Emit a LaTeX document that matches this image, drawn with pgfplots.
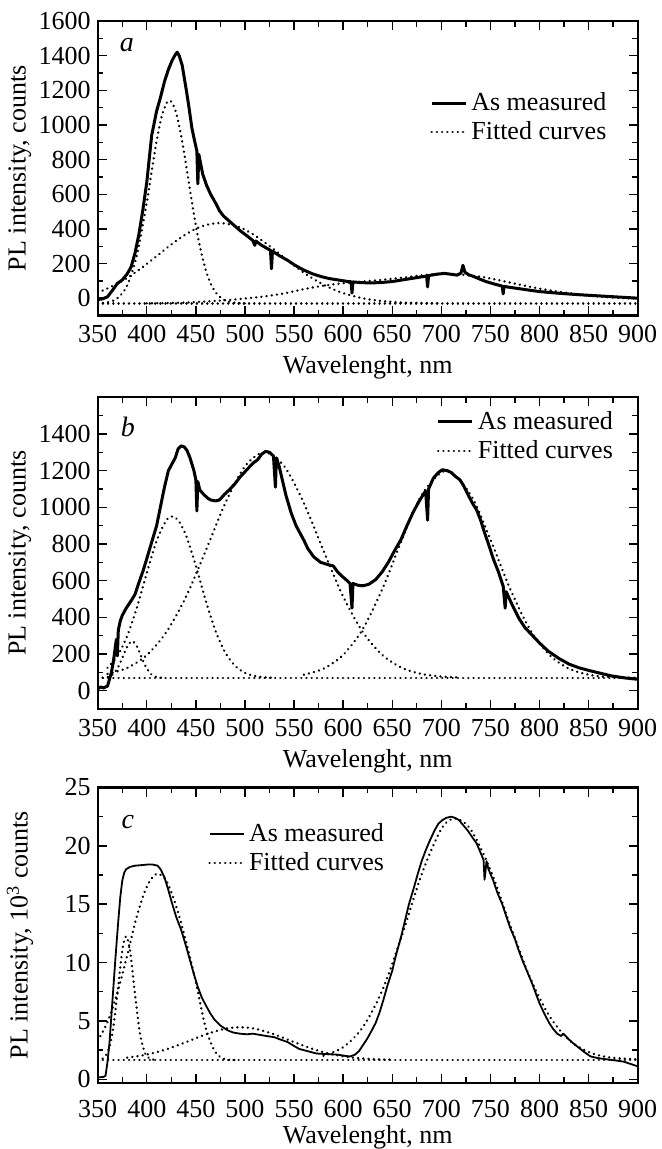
\documentclass[border=0pt]{standalone}
\usepackage{fontspec}
\setmainfont{Liberation Serif}
\usepackage{pgfplots}
\pgfplotsset{compat=1.18}

\pgfplotsset{
  plpanel/.style={
    scale only axis, width=270pt, xmin=350, xmax=900,
    xtick={350,400,...,900}, minor x tick num=1,
    tick align=inside, xtick pos=both, ytick pos=both,
    major tick length=4.5pt, minor tick length=2.8pt,
    every tick/.style={black,line width=0.7pt},
    axis line style={line width=1.1pt},
    tick label style={font=\fontsize{13}{15}\selectfont},
    xticklabel style={yshift=-1.5pt},
    label style={font=\fontsize{13}{15}\selectfont},
    /pgf/number format/assume math mode=true,
    /pgf/number format/1000 sep={},
    xlabel={Wavelenght, nm},
    xlabel style={at={(axis description cs:0.5,0)}, anchor=center, yshift=-26pt},
    ylabel style={at={(axis description cs:-0.144,0.5)}, anchor=center},
    legend style={draw=none, fill=none, font=\fontsize{13}{15}\selectfont, inner sep=0pt, row sep=0pt},
    legend cell align=left,
  },
  meas/.style={black, line width=1.5pt, line join=round},
  fit/.style={black, line width=1.3pt, dash pattern=on 0.01pt off 2.6pt, line cap=round, smooth},
}

\begin{document}
\begin{tikzpicture}
\path[use as bounding box] (-48.85pt,10.5pt) rectangle (281.65pt,-564pt);

% ---- panel a
\begin{axis}[plpanel, at={(0pt,0pt)}, anchor=north west, height=147.25pt,
  ymin=-100, ymax=1600, ytick={0,200,...,1600}, minor y tick num=1,
  ylabel={PL intensity, counts},
  legend style={at={(axis description cs:0.615,0.772)}, anchor=north west}]
\addplot[meas] coordinates {(350,-8)(355,-4)(360,8)(365,45)(370,85)(375,105)(380,140)(384,180)(388,260)(392,370)(396,510)(400,670)(405,940)(410,1080)(414,1160)(418,1250)(422,1320)(426,1375)(429,1405)(431,1420)(433,1400)(436,1345)(440,1210)(443,1100)(446,980)(449,900)(451,850)(452,660)(453,830)(457,715)(461,650)(465,600)(470,550)(474,505)(478,475)(483,450)(489,420)(495,390)(502,360)(508,333)(510,305)(511,330)(517,305)(526,276)(527,170)(528,272)(535,245)(543,220)(551,190)(560,162)(569,140)(578,124)(586,113)(595,105)(605,96)(608,95)(609,30)(610,94)(617,90)(628,88)(638,90)(650,96)(660,105)(670,114)(681,124)(685,128)(686,65)(687,130)(695,138)(703,143)(710,138)(716,133)(720,145)(722,190)(724,150)(728,135)(733,125)(740,108)(746,95)(755,80)(762,70)(763,25)(764,68)(768,64)(779,55)(790,46)(800,38)(812,32)(825,26)(840,20)(855,15)(870,10)(885,5)(900,0)};
\addlegendentry{As measured}
\addplot[fit] coordinates {(350,-30)(900,-30)};
\addlegendentry{Fitted curves}
\addplot[fit, forget plot] coordinates {(350,-29)(360,-24)(370,-1)(380,73)(390,250)(400,553)(405,734)(410,907)(415,1045)(420,1126)(423,1140)(426,1126)(430,1067)(435,938)(440,770)(445,589)(450,418)(455,275)(460,163)(465,85)(470,34)(475,5)(480,-14)(490,-27)(500,-30)};
\addplot[fit, forget plot] coordinates {(350,33)(360,56)(375,100)(390,155)(400,198)(410,242)(420,288)(430,331)(440,369)(450,401)(460,422)(474,434)(490,419)(500,395)(510,362)(520,322)(530,279)(540,233)(550,189)(560,147)(570,110)(580,78)(590,51)(600,29)(620,-1)(640,-17)(660,-25)(680,-28)(700,-30)};
\addplot[fit, forget plot] coordinates {(400,-30)(440,-25)(480,-12)(500,-2)(520,10)(540,28)(560,52)(580,72)(600,86)(620,96)(640,106)(660,118)(680,132)(700,140)(720,136)(740,124)(760,102)(780,78)(800,55)(820,37)(840,22)(860,10)(880,2)(900,-3)};
\node[font=\fontsize{14}{16}\selectfont\itshape] at (axis description cs:0.054,0.918) {a};
\end{axis}

% ---- panel b
\begin{axis}[plpanel, at={(0pt,-188.15pt)}, anchor=north west, height=155.85pt,
  ymin=-100, ymax=1600, ytick={0,200,...,1400}, minor ytick={100,300,...,1500},
  ylabel={PL intensity, counts},
  legend style={at={(axis description cs:0.627,0.969)}, anchor=north west}]
\addplot[meas] coordinates {(350,10)(353,20)(356,15)(360,25)(364,100)(366,160)(369,280)(370,190)(371,330)(373,380)(375,410)(379,450)(384,490)(388,525)(392,590)(396,650)(400,720)(405,810)(410,900)(414,1005)(418,1110)(422,1200)(426,1240)(429,1270)(432,1320)(435,1335)(438,1330)(441,1310)(444,1270)(448,1200)(450,1150)(451,980)(452,1140)(454,1095)(458,1070)(462,1050)(465,1040)(470,1035)(474,1040)(479,1070)(484,1095)(490,1130)(495,1165)(501,1200)(508,1240)(513,1260)(517,1290)(521,1305)(525,1300)(529,1280)(531,1110)(532,1270)(535,1220)(538,1150)(542,1060)(547,970)(552,900)(556,860)(560,820)(564,775)(570,730)(577,700)(583,690)(590,680)(594,650)(598,628)(603,605)(607,585)(609,450)(610,585)(615,575)(620,572)(626,580)(633,605)(640,650)(646,700)(652,760)(659,825)(665,900)(671,970)(677,1030)(684,1090)(686,930)(687,1100)(692,1160)(697,1190)(701,1205)(706,1200)(710,1190)(714,1170)(719,1150)(723,1115)(728,1060)(732,1020)(736,985)(740,930)(744,862)(748,800)(753,718)(758,650)(763,570)(765,450)(766,540)(772,470)(779,395)(785,345)(792,305)(800,260)(809,215)(820,175)(830,145)(840,125)(852,108)(862,95)(873,81)(886,70)(900,62)};
\addlegendentry{As measured}
\addplot[fit] coordinates {(350,70)(900,70)};
\addlegendentry{Fitted curves}
\addplot[fit, forget plot] coordinates {(355,71)(360,74)(365,87)(370,120)(375,178)(380,241)(385,270)(390,241)(395,178)(400,120)(405,87)(410,74)(415,71)};
\addplot[fit, forget plot] coordinates {(360,125)(370,189)(380,298)(390,455)(400,642)(410,817)(420,930)(426,950)(432,930)(440,846)(450,680)(460,491)(470,326)(480,207)(490,135)(500,97)(510,80)(520,73)(530,70)};
\addplot[fit, forget plot] coordinates {(360,91)(380,124)(400,194)(420,320)(440,513)(460,763)(480,1023)(500,1224)(520,1300)(540,1224)(560,1023)(580,763)(600,513)(620,320)(640,194)(660,124)(680,91)(700,77)(720,72)};
\addplot[fit, forget plot] coordinates {(560,87)(580,120)(600,195)(620,336)(640,556)(660,824)(680,1067)(705,1200)(730,1067)(750,824)(770,556)(790,336)(810,195)(830,120)(850,87)(870,75)(900,70)};
\node[font=\fontsize{14}{16}\selectfont\itshape] at (axis description cs:0.056,0.906) {b};
\end{axis}

% ---- panel c
\begin{axis}[plpanel, at={(0pt,-383.25pt)}, anchor=north west, height=147.6pt,
  ymin=-0.3, ymax=25, ytick={0,5,...,25}, minor y tick num=1,
  xticklabel style={yshift=-3.5pt},
  xlabel style={yshift=-1.5pt},
  ylabel={PL intensity, 10\textsuperscript{3} counts},
  legend style={at={(axis description cs:0.204,0.893)}, anchor=north west}]
\addplot[meas, line width=0.9pt] coordinates {(350,0.15)(356,0.2)(358,0.3)(360,1.5)(362,3.1)(364,5.5)(366,7.9)(368,10.3)(371,13.6)(373,15.6)(375,17.0)(377,17.7)(379,18.0)(383,18.2)(388,18.3)(395,18.35)(401,18.4)(406,18.4)(411,18.3)(414,18.0)(418,17.3)(422,16.2)(426,15.0)(430,13.9)(435,12.8)(440,11.4)(444,10.2)(448,9.0)(452,7.9)(456,7.0)(461,6.2)(465,5.6)(469,5.1)(475,4.6)(482,4.2)(488,4.0)(495,3.9)(502,3.85)(508,3.9)(515,3.8)(522,3.7)(530,3.6)(536,3.4)(543,3.2)(549,2.9)(555,2.6)(564,2.4)(573,2.2)(584,2.15)(595,2.1)(602,2.0)(607,1.95)(612,2.1)(616,2.4)(620,2.9)(624,3.4)(628,4.0)(633,4.8)(637,5.7)(641,6.8)(645,8.0)(650,9.3)(654,10.7)(659,12.2)(663,13.6)(667,15.0)(672,16.4)(676,17.6)(680,18.7)(684,19.6)(688,20.4)(693,21.3)(697,21.9)(701,22.2)(705,22.4)(710,22.5)(714,22.4)(718,22.2)(722,21.8)(727,21.3)(731,20.8)(736,20.2)(740,19.4)(743,18.8)(744,17.1)(745,17.8)(746,18.7)(748,18.0)(753,17.0)(757,16.0)(762,15.0)(766,14.0)(770,13.0)(775,12.0)(779,11.0)(783,10.1)(787,9.3)(792,8.3)(796,7.4)(800,6.5)(805,5.6)(810,4.8)(814,4.3)(818,3.9)(822,3.7)(824,3.9)(826,3.75)(830,3.4)(834,3.1)(840,2.7)(846,2.3)(852,1.95)(860,1.8)(869,1.7)(878,1.6)(886,1.5)(893,1.3)(900,1.1)};
\addlegendentry{As measured}
\addplot[fit] coordinates {(350,1.65)(900,1.65)};
\addlegendentry{Fitted curves}
\addplot[fit, forget plot] coordinates {(355,1.77)(360,2.28)(365,3.94)(370,7.28)(375,11.0)(379,12.25)(383,11.0)(388,7.28)(393,3.94)(398,2.28)(403,1.77)(410,1.65)};
\addplot[fit, forget plot] coordinates {(350,3.3)(360,4.9)(370,7.4)(380,10.6)(390,14.0)(400,16.5)(410,17.6)(420,17.0)(430,14.8)(440,11.8)(450,8.3)(460,4.4)(470,2.3)(480,1.7)(490,1.65)};
\addplot[fit, forget plot] coordinates {(380,1.85)(400,2.11)(420,2.56)(440,3.18)(460,3.84)(480,4.33)(495,4.45)(510,4.33)(530,3.84)(550,3.18)(570,2.56)(590,2.11)(610,1.85)(630,1.72)(650,1.67)};
\addplot[fit, forget plot] coordinates {(580,2.01)(600,2.74)(620,4.45)(640,7.64)(660,12.35)(680,17.58)(700,21.45)(714,22.35)(730,21.39)(750,17.94)(770,13.24)(790,8.77)(810,5.42)(830,3.37)(850,2.33)(870,1.88)(900,1.70)};
\node[font=\fontsize{14}{16}\selectfont\itshape] at (axis description cs:0.056,0.883) {c};
\end{axis}
\end{tikzpicture}
\end{document}
